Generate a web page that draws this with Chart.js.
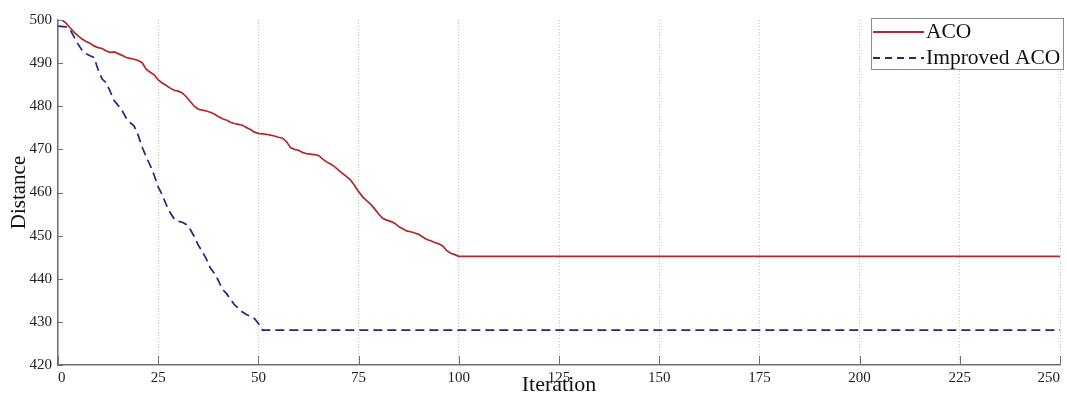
<!DOCTYPE html>
<html>
<head>
<meta charset="utf-8">
<script src="https://cdn.jsdelivr.net/npm/chart.js@4/dist/chart.umd.min.js"></script>
<style>
  body { margin: 0; background: #fff; }
  #wrap { width: 1067px; height: 394px; }
</style>
</head>
<body>
<div id="wrap"><canvas id="chart" width="1067" height="394"></canvas></div>
<script>
// values
const xTicks = [0, 25, 50, 75, 100, 125, 150, 175, 200, 225, 250];
const yTicks = [420, 430, 440, 450, 460, 470, 480, 490, 500];

const acoIter = [0, 1, 2, 3, 4, 5, 6, 7, 8, 9, 10, 11, 12, 13, 14, 15, 16, 17, 18, 19, 20,
  21, 22, 23, 24, 25, 26, 27, 28, 29, 30, 31, 32, 33, 34, 35, 36, 37, 38, 39, 40,
  41, 42, 43, 44, 45, 46, 47, 48, 49, 50, 51, 52, 53, 54, 55, 56, 57, 58, 59, 60,
  61, 62, 63, 64, 65, 66, 67, 68, 69, 70, 71, 72, 73, 74, 75, 76, 77, 78, 79, 80,
  81, 82, 83, 84, 85, 86, 87, 88, 89, 90, 91, 92, 93, 94, 95, 96, 97, 98, 99, 100, 250];
const acoDist = [500.2, 500, 499.3, 498.2, 497.2, 496.3, 495.6, 495, 494.6, 494, 493.6,
  493.4, 492.8, 492.5, 492.6, 492.2, 491.8, 491.3, 491.1, 490.9, 490.6,
  490.1, 488.6, 487.9, 487.3, 486.1, 485.4, 484.8, 484.2, 483.7, 483.5,
  483.1, 482.2, 481.1, 480, 479.3, 479.1, 478.9, 478.6, 478.2, 477.6,
  477.1, 476.8, 476.3, 476, 475.8, 475.6, 475.1, 474.6, 474, 473.7,
  473.6, 473.5, 473.3, 473.1, 472.8, 472.6, 471.8, 470.4, 470, 469.8,
  469.3, 469, 468.9, 468.8, 468.6, 467.8, 467.1, 466.6, 466, 465.2,
  464.4, 463.7, 462.9, 461.6, 460.2, 459, 458.1, 457.3, 456.2, 455,
  454, 453.6, 453.3, 452.9, 452.1, 451.6, 451.1, 450.9, 450.6, 450.3,
  449.7, 449.1, 448.8, 448.4, 448.1, 447.6, 446.5, 445.9, 445.6, 445.2, 445.2];

const impIter = [0, 2, 3, 4, 5, 6, 7, 8, 9, 10, 11, 12, 13, 14, 15, 16, 17, 18, 19, 20,
  21, 22, 23, 24, 25, 26, 27, 28, 29, 30, 31, 32, 33, 34, 35, 36, 37, 38, 39, 40,
  41, 42, 43, 44, 45, 46, 47, 48, 49, 50, 51, 250];
const impDist = [498.6, 498.4, 497.8, 496.1, 494.4, 493, 492.2, 491.7, 491.3, 488.5,
  486.3, 485.5, 483.5, 481.3, 480.2, 479, 477.3, 476.2, 475.4, 473.3,
  470.5, 468.3, 466.3, 464, 461.3, 459.5, 457.2, 455.3, 453.9, 453.3,
  453.1, 452.6, 451.4, 449.8, 447.8, 446.3, 444.6, 442.5, 441.3, 439.6,
  437.6, 436.6, 435.3, 434, 433.2, 432.3, 431.7, 431.3, 430.8, 429.6, 428.1, 428.1];

const seriesNames = ["ACO", "Improved ACO"];
const seriesColors = ["#b3272c", "#25267e"];

const serif = "'Liberation Serif', 'Times New Roman', serif";
const axisGrey = "#707070";

const toPoints = (xs, ys) => xs.map((x, i) => ({ x: x, y: ys[i] }));

// small tick marks drawn inward, like the original figure
const innerTicks = {
  id: "innerTicks",
  afterDraw(chart) {
    const { ctx, scales: { x, y }, chartArea } = chart;
    ctx.save();
    ctx.strokeStyle = axisGrey;
    ctx.lineWidth = 1;
    ctx.beginPath();
    xTicks.forEach((v) => {
      const px = Math.round(x.getPixelForValue(v)) + 0.5;
      ctx.moveTo(px, chartArea.bottom);
      ctx.lineTo(px, chartArea.bottom - 9);
    });
    yTicks.forEach((v) => {
      const py = Math.round(y.getPixelForValue(v)) + 0.5;
      ctx.moveTo(chartArea.left, py);
      ctx.lineTo(chartArea.left + 5, py);
    });
    ctx.stroke();
    ctx.restore();
  },
};

// boxed legend in the top right corner
const boxLegend = {
  id: "boxLegend",
  afterDraw(chart) {
    const ctx = chart.ctx;
    const left = 871, top = 18, w = 192, h = 51;
    ctx.save();
    ctx.fillStyle = "#fff";
    ctx.fillRect(left, top, w, h);
    ctx.strokeStyle = "#8a8a8a";
    ctx.lineWidth = 1;
    ctx.strokeRect(left + 0.5, top + 0.5, w, h);
    ctx.font = "21.5px " + serif;
    ctx.textBaseline = "middle";
    chart.data.datasets.forEach((ds, i) => {
      const cy = top + 13 + i * 26;
      ctx.strokeStyle = ds.borderColor;
      ctx.lineWidth = 1.8;
      ctx.setLineDash(ds.borderDash ? [7, 5] : []);
      ctx.beginPath();
      ctx.moveTo(left + 2, cy + 1);
      ctx.lineTo(left + 53, cy + 1);
      ctx.stroke();
      ctx.setLineDash([]);
      ctx.fillStyle = "#111";
      ctx.fillText(ds.label, left + 55, cy + 1);
    });
    ctx.restore();
  },
};

new Chart(document.getElementById("chart"), {
  type: "line",
  data: {
    datasets: [
      {
        label: seriesNames[0],
        data: toPoints(acoIter, acoDist),
        borderColor: seriesColors[0],
        borderWidth: 1.7,
        pointRadius: 0,
        tension: 0,
      },
      {
        label: seriesNames[1],
        data: toPoints(impIter, impDist),
        borderColor: seriesColors[1],
        borderWidth: 1.7,
        borderDash: [9, 5],
        pointRadius: 0,
        tension: 0,
      },
    ],
  },
  options: {
    responsive: false,
    animation: false,
    layout: { padding: { top: 20, right: 7, left: 0, bottom: 0 } },
    plugins: { legend: { display: false }, tooltip: { enabled: false } },
    scales: {
      x: {
        type: "linear",
        min: 0,
        max: 250,
        afterBuildTicks: (s) => { s.ticks = xTicks.map((v) => ({ value: v })); },
        afterFit: (s) => { s.height = 29; s.paddingLeft = 0; s.paddingRight = 0; },
        ticks: { color: "#222", padding: 4, align: "inner", font: { family: serif, size: 15 }, maxRotation: 0 },
        grid: { color: "#c4c4c4", lineWidth: 1, drawTicks: false },
        border: { display: true, color: axisGrey, width: 1.5, dash: [1, 2] },
        title: {
          display: true,
          text: "Iteration",
          color: "#111",
          padding: { top: 0, bottom: -4 },
          font: { family: serif, size: 22 },
        },
      },
      y: {
        min: 420,
        max: 500,
        afterBuildTicks: (s) => { s.ticks = yTicks.map((v) => ({ value: v })); },
        afterFit: (s) => { s.width = 58; s.paddingTop = 0; s.paddingBottom = 0; },
        ticks: { color: "#222", padding: 6, font: { family: serif, size: 15 } },
        grid: { display: false, drawTicks: false },
        border: { display: true, color: axisGrey, width: 1.5 },
        title: {
          display: true,
          text: "Distance",
          color: "#111",
          padding: { top: 7, bottom: 0 },
          font: { family: serif, size: 21 },
        },
      },
    },
  },
  plugins: [innerTicks, boxLegend],
});
</script>
</body>
</html>
